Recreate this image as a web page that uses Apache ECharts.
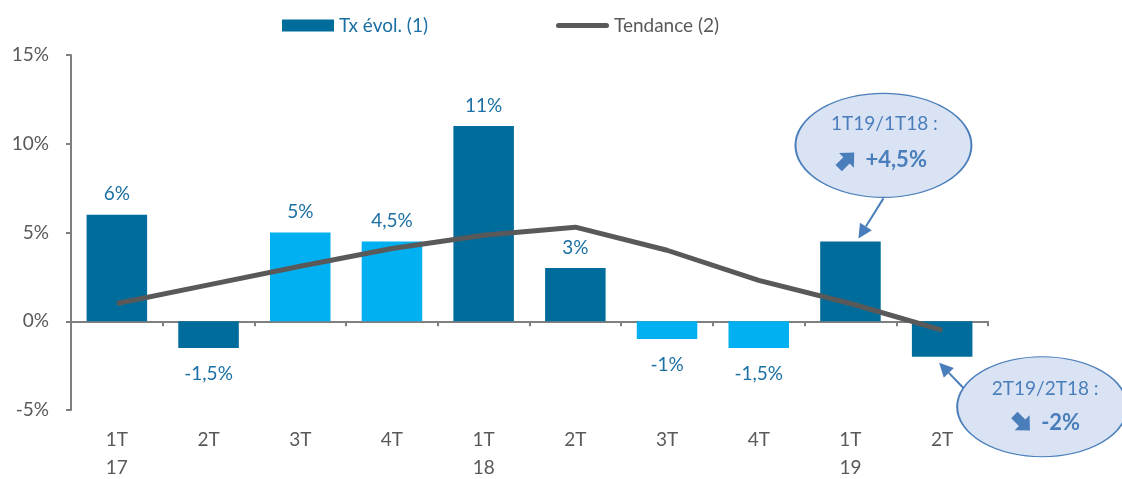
<!DOCTYPE html>
<html>
<head>
<meta charset="utf-8">
<script src="https://cdn.jsdelivr.net/npm/echarts@6/dist/echarts.min.js"></script>
<style>
  html, body { margin: 0; padding: 0; background: #fff; }
  #chart { width: 1122px; height: 479px; }
</style>
</head>
<body>
<div id="chart"></div>
<script>
// données
const periods = ['1T17', '2T17', '3T17', '4T17', '1T18', '2T18', '3T18', '4T18', '1T19', '2T19'];
const quarters = ['1T', '2T', '3T', '4T', '1T', '2T', '3T', '4T', '1T', '2T'];
const years = ['17', '', '', '', '18', '', '', '', '19', ''];
const txEvol = [6, -1.5, 5, 4.5, 11, 3, -1, -1.5, 4.5, -2];
const txLabels = ['6%', '-1,5%', '5%', '4,5%', '11%', '3%', '-1%', '-1,5%', '', ''];
const barDark = [true, true, false, false, true, true, false, false, true, true];
const tendance = [1.0, 2.05, 3.1, 4.1, 4.85, 5.3, 4.0, 2.3, 1.0, -0.5];

const DARK = '#006c9b';
const LIGHT = '#00b0f0';
const GREY = '#595959';
const AXIS = '#7f7f7f';
const LABEL_BLUE = '#1a6fa3';
const CALLOUT = '#4a7ebb';
const FONT = 'Lato, "Open Sans", sans-serif';

const chart = echarts.init(document.getElementById('chart'));

const option = {
    animation: false,
    textStyle: { fontFamily: FONT },
    grid: { left: 71, right: 134, top: 55, bottom: 69, outerBoundsMode: 'none' },
    legend: [
        {
            left: 277,
            top: 11,
            itemWidth: 52,
            itemHeight: 12,
            textStyle: { fontSize: 19, fontFamily: FONT, color: LABEL_BLUE },
            data: [{ name: 'Tx évol. (1)', icon: 'rect' }]
        },
        {
            left: 551,
            top: 11,
            itemWidth: 53,
            itemHeight: 12,
            textStyle: { fontSize: 19, fontFamily: FONT, color: GREY },
            data: [{
                name: 'Tendance (2)',
                icon: 'path://M2.5,0 L50.5,0 A2.5,2.5 0 0 1 50.5,5 L2.5,5 A2.5,2.5 0 0 1 2.5,0 Z'
            }]
        }
    ],
    xAxis: [
        {
            type: 'category',
            data: periods,
            axisLine: { onZero: true, lineStyle: { color: AXIS, width: 2 } },
            axisTick: { show: true, length: 5, lineStyle: { color: AXIS, width: 2 } },
            axisLabel: { show: false }
        },
        {
            type: 'category',
            data: periods,
            position: 'bottom',
            axisLine: { show: false, onZero: false },
            axisTick: { show: false },
            axisLabel: {
                margin: 16,
                color: GREY,
                fontSize: 19,
                lineHeight: 28,
                formatter: (v, i) => quarters[i] + '\n' + (years[i] || ' ')
            }
        }
    ],
    yAxis: {
        type: 'value',
        min: -5,
        max: 15,
        interval: 5,
        splitLine: { show: false },
        axisLine: { show: true, onZero: false, lineStyle: { color: AXIS, width: 2 } },
        axisTick: { show: true, length: 5, lineStyle: { color: AXIS, width: 2 } },
        axisLabel: {
            color: GREY,
            fontSize: 19,
            margin: 22,
            formatter: v => v + '%'
        }
    },
    series: [
        {
            name: 'Tx évol. (1)',
            type: 'bar',
            barWidth: '66%',
            itemStyle: { color: DARK },
            data: txEvol.map((v, i) => ({
                value: v,
                itemStyle: { color: barDark[i] ? DARK : LIGHT },
                label: {
                    show: txLabels[i] !== '',
                    position: v >= 0 ? 'top' : 'bottom',
                    distance: v >= 0 ? 11 : 16,
                    formatter: txLabels[i],
                    color: LABEL_BLUE,
                    fontSize: 19,
                    fontFamily: FONT
                }
            }))
        },
        {
            name: 'Tendance (2)',
            type: 'line',
            data: tendance,
            symbol: 'none',
            lineStyle: { color: GREY, width: 5 },
            itemStyle: { color: GREY },
            z: 5
        }
    ]
};

chart.setOption(option);

// bulles de commentaire
function arrow(x1, y1, x2, y2) {
    const a = Math.atan2(y2 - y1, x2 - x1);
    const L = 14, W = 7;
    const bx = x2 - L * Math.cos(a), by = y2 - L * Math.sin(a);
    return [
        { type: 'line', shape: { x1: x1, y1: y1, x2: bx, y2: by }, style: { stroke: CALLOUT, lineWidth: 2 }, z: 20 },
        {
            type: 'polygon',
            shape: { points: [[x2, y2], [bx + W * Math.sin(a), by - W * Math.cos(a)], [bx - W * Math.sin(a), by + W * Math.cos(a)]] },
            style: { fill: CALLOUT }, z: 20
        }
    ];
}

// grosse flèche (pointe vers la droite, tournée ensuite)
const fatArrow = [[-11, -4.5], [0, -4.5], [0, -10.5], [11, 0], [0, 10.5], [0, 4.5], [-11, 4.5]];

function bubble(b) {
    return [
        {
            type: 'circle', x: b.cx, y: b.cy, scaleY: b.ry / b.rx,
            shape: { cx: 0, cy: 0, r: b.rx },
            style: { fill: '#dae3f3', stroke: CALLOUT, lineWidth: 2 }, z: 21
        },
        {
            type: 'text', x: b.cx + b.dx1, y: b.cy + b.dy1,
            style: { text: b.line1, fill: CALLOUT, font: '19px ' + FONT, textAlign: 'center', textVerticalAlign: 'middle' }, z: 22
        },
        {
            type: 'polygon', x: b.cx + b.dxIcon, y: b.cy + b.dy2, rotation: b.rot,
            shape: { points: fatArrow },
            style: { fill: CALLOUT }, z: 22
        },
        {
            type: 'text', x: b.cx + b.dxText, y: b.cy + b.dy2,
            style: { text: b.line2, fill: CALLOUT, font: 'bold 22px ' + FONT, textAlign: 'left', textVerticalAlign: 'middle' }, z: 22
        }
    ];
}

const top1 = chart.convertToPixel({ xAxisIndex: 0, yAxisIndex: 0 }, [8, txEvol[8]]);
const bot2 = chart.convertToPixel({ xAxisIndex: 0, yAxisIndex: 0 }, [9, txEvol[9]]);

const graphics = []
    .concat(arrow(top1[0] + 33, top1[1] - 43, top1[0] + 8, top1[1] - 3))
    .concat(arrow(bot2[0] + 22, bot2[1] + 32, bot2[0] - 3, bot2[1] + 6))
    .concat(bubble({
        cx: top1[0] + 33, cy: top1[1] - 96, rx: 88, ry: 52,
        line1: '1T19/1T18 :', dx1: 1, dy1: -22,
        line2: '+4,5%', rot: Math.PI / 4, dxIcon: -37, dxText: -18, dy2: 15
    }))
    .concat(bubble({
        cx: bot2[0] + 100, cy: bot2[1] + 50, rx: 85, ry: 50,
        line1: '2T19/2T18 :', dx1: 3, dy1: -18,
        line2: '-2%', rot: -Math.PI / 4, dxIcon: -20, dxText: -1, dy2: 16
    }));

chart.setOption({ graphic: graphics });
</script>
</body>
</html>
